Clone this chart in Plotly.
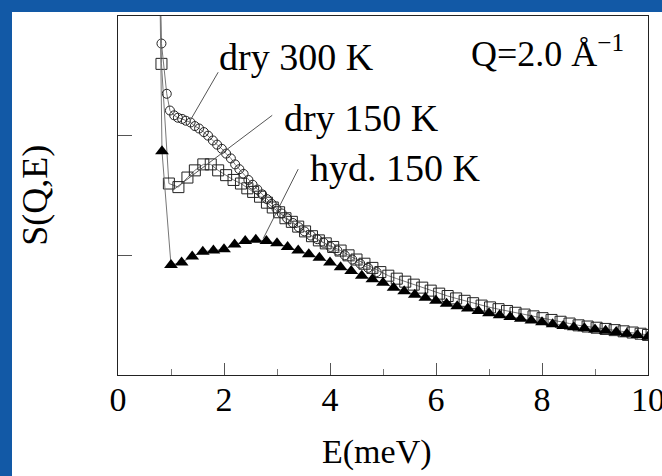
import plotly.graph_objects as go

# ---------------- data ----------------
# dry 300 K (open circles)
E_dry300 = [0.78, 0.82, 0.92, 0.98, 1.06, 1.13, 1.21, 1.28, 1.37, 1.45, 1.53, 1.62, 1.70, 1.79,
            1.87, 1.96, 2.04, 2.13, 2.21, 2.29, 2.37, 2.46, 2.54, 2.63, 2.72, 2.81, 2.90,
            2.99, 3.09, 3.19, 3.30, 3.41, 3.52, 3.64, 3.76, 3.88, 4.01, 4.14, 4.28, 4.42, 4.57, 4.72, 4.88]
S_dry300 = [3.60, 2.77, 2.35, 2.21, 2.17, 2.15, 2.14, 2.125, 2.11, 2.08, 2.06, 2.03, 2.00, 1.96,
            1.925, 1.89, 1.85, 1.81, 1.76, 1.72, 1.68, 1.63, 1.59, 1.55, 1.51, 1.47, 1.43,
            1.39, 1.35, 1.31, 1.27, 1.235, 1.20, 1.165, 1.135, 1.105, 1.07, 1.04, 1.00, 0.965, 0.93, 0.895, 0.86]

# dry 150 K (open squares)
E_dry150 = [0.78, 0.82, 0.96, 1.14, 1.31, 1.45, 1.61, 1.75, 1.89, 2.04, 2.18, 2.32, 2.44, 2.55,
            2.68, 2.81, 2.92, 3.04, 3.16, 3.28, 3.40, 3.53, 3.66, 3.79, 3.92, 4.06, 4.20,
            4.35, 4.50, 4.65, 4.80, 4.95, 5.10, 5.26, 5.42, 5.58, 5.74, 5.90, 6.06, 6.22,
            6.38, 6.54, 6.70, 6.86, 7.02, 7.18, 7.34, 7.50, 7.67, 7.84, 8.01, 8.18, 8.35,
            8.52, 8.69, 8.86, 9.03, 9.20, 9.37, 9.54, 9.71, 9.86, 10.0]
S_dry150 = [3.60, 2.60, 1.60, 1.57, 1.65, 1.71, 1.76, 1.76, 1.71, 1.67, 1.63, 1.60, 1.56, 1.53,
            1.49, 1.44, 1.40, 1.36, 1.31, 1.28, 1.24, 1.20, 1.16, 1.125, 1.10, 1.07, 1.04,
            1.00, 0.965, 0.93, 0.895, 0.86, 0.83, 0.805, 0.78, 0.755, 0.73, 0.705, 0.68, 0.66,
            0.64, 0.62, 0.60, 0.58, 0.565, 0.55, 0.535, 0.52, 0.505, 0.49, 0.475, 0.46, 0.445,
            0.43, 0.415, 0.405, 0.395, 0.385, 0.375, 0.365, 0.355, 0.345, 0.335]

# hyd. 150 K (filled triangles)
E_hyd150 = [0.78, 0.83, 1.0, 1.2, 1.4, 1.6, 1.8, 2.0, 2.2, 2.4, 2.6, 2.8, 3.0, 3.2, 3.4, 3.6,
            3.8, 4.0, 4.2, 4.4, 4.6, 4.8, 5.0, 5.2, 5.4, 5.6, 5.8, 6.0, 6.2, 6.4, 6.6, 6.8,
            7.0, 7.2, 7.4, 7.6, 7.8, 8.0, 8.2, 8.4, 8.6, 8.8, 9.0, 9.2, 9.4, 9.6, 9.8, 10.0]
S_hyd150 = [3.60, 1.87, 0.92, 0.94, 0.99, 1.03, 1.04, 1.05, 1.09, 1.12, 1.13, 1.12, 1.10, 1.07, 1.04, 1.01,
            0.98, 0.94, 0.90, 0.87, 0.83, 0.80, 0.77, 0.73, 0.70, 0.67, 0.645, 0.62, 0.595, 0.575, 0.555, 0.535,
            0.515, 0.50, 0.485, 0.47, 0.455, 0.44, 0.425, 0.41, 0.40, 0.39, 0.38, 0.37, 0.36, 0.345, 0.335, 0.32]

x_ticks = [0, 2, 4, 6, 8, 10]
x_ticklabels = ["0", "2", "4", "6", "8", "10"]
y_ticks = [1, 2]

labels = ["dry 300 K", "dry 150 K", "hyd. 150 K"]

FONT = "Liberation Serif, Times New Roman, serif"

fig = go.Figure()

line_style = dict(color="#777777", width=1)
fig.add_trace(go.Scatter(x=E_dry150, y=S_dry150, mode="lines+markers", line=line_style,
                         marker=dict(symbol="square-open", size=11, color="#222222", line=dict(width=1)),
                         name=labels[1]))
fig.add_trace(go.Scatter(x=E_dry300, y=S_dry300, mode="lines+markers", line=line_style,
                         marker=dict(symbol="circle-open", size=9, color="#222222", line=dict(width=1)),
                         name=labels[0]))
fig.add_trace(go.Scatter(x=E_hyd150, y=S_hyd150, mode="lines+markers", line=line_style,
                         marker=dict(symbol="triangle-up", size=12, color="#000000"),
                         name=labels[2]))

# background: blue page with a white panel
fig.add_shape(type="rect", xref="paper", yref="paper", x0=-0.2, x1=1.2, y0=-0.4, y1=1.0111,
              fillcolor="white", line=dict(width=0), layer="below")

# leader lines
leaders = [
    (1.89, 2.53, 1.36, 2.125),
    (2.91, 2.17, 1.02, 1.54),
    (3.40, 1.72, 2.74, 1.14),
]
for x0, y0, x1, y1 in leaders:
    fig.add_shape(type="line", xref="x", yref="y", x0=x0, y0=y0, x1=x1, y1=y1,
                  line=dict(color="#555555", width=1))

text_pos = [(1.86, 2.66), (3.09, 2.15), (3.58, 1.73)]
for (tx, ty), lab in zip(text_pos, labels):
    fig.add_annotation(x=tx, y=ty, xref="x", yref="y", text=lab, showarrow=False,
                       xanchor="left", yanchor="middle",
                       font=dict(family=FONT, size=38, color="black"))

fig.add_annotation(x=6.62, y=2.70, xref="x", yref="y", text="Q=2.0 Å<sup>−1</sup>", showarrow=False,
                   xanchor="left", yanchor="middle", font=dict(family=FONT, size=36, color="black"))

fig.add_annotation(x=-0.158, y=0.5, xref="paper", yref="paper", text="S(Q,E)", showarrow=False,
                   xanchor="center", yanchor="middle",
                   textangle=-90, font=dict(family=FONT, size=36, color="black"))
fig.add_annotation(x=0.489, y=-0.2145, xref="paper", yref="paper", text="E(meV)", showarrow=False,
                   xanchor="center", yanchor="middle",
                   font=dict(family=FONT, size=34, color="black"))

fig.update_layout(
    width=662, height=476,
    margin=dict(l=118, r=14, t=16, b=101),
    paper_bgcolor="#1259a6",
    plot_bgcolor="white",
    showlegend=False,
    font=dict(family=FONT, size=34, color="black"),
    xaxis=dict(range=[0, 10], tickvals=x_ticks, ticktext=x_ticklabels, ticks="inside", ticklen=12,
               tickcolor="#555555", showgrid=False, zeroline=False, showline=True, linecolor="#222222",
               linewidth=1, mirror=True, minor=dict(dtick=1, ticks="inside", ticklen=6, tickcolor="#777777"),
               tickfont=dict(family=FONT, size=34), automargin=False, ticklabeloverflow="allow",
               ticklabelstandoff=-6),
    yaxis=dict(range=[0, 3], tickvals=y_ticks, showticklabels=False, ticks="inside", ticklen=14,
               tickcolor="#555555", showgrid=False, zeroline=False, showline=True, linecolor="#222222",
               linewidth=1, mirror=True, automargin=False),
)

fig.write_html("out.html", config={"displayModeBar": False},
               post_script="document.body.style.margin='0px';document.body.style.overflow='hidden';")
